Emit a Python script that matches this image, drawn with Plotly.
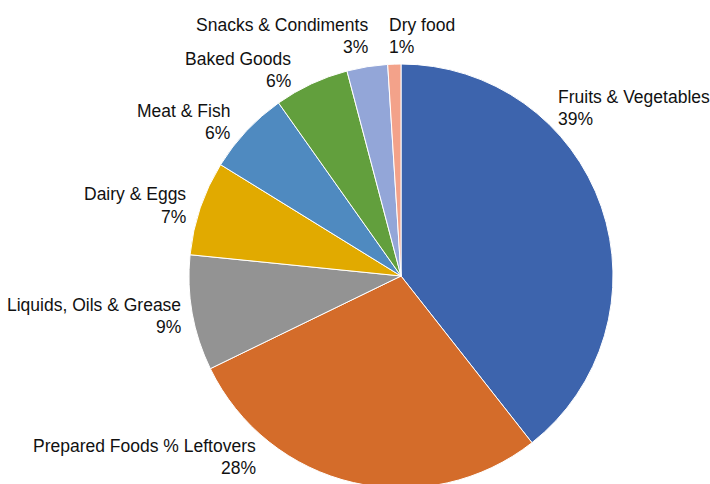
import plotly.graph_objects as go

categories = ["Fruits & Vegetables", "Prepared Foods % Leftovers", "Liquids, Oils & Grease",
              "Dairy & Eggs", "Meat & Fish", "Baked Goods", "Snacks & Condiments", "Dry food"]
values = [39.4, 28.4, 8.8, 7.2, 6.4, 5.7, 3.1, 1.0]
pct_labels = ["39%", "28%", "9%", "7%", "6%", "6%", "3%", "1%"]
colors = ["#3D64AD", "#D46C2A", "#939393", "#E1AA00", "#4F8AC0", "#629F3D", "#93A6D8", "#F3A28A"]

W, H = 710, 490
# label anchor positions in pixels: (x, y_line1, y_line2, align)
label_pos = [
    (556, 97, 119, "left"),
    (258, 446, 468, "right"),
    (183, 305, 327, "right"),
    (188, 194, 217, "right"),
    (232, 111, 133, "right"),
    (293, 59, 81, "right"),
    (370, 25, 47, "right"),
    (387, 25, 47, "left"),
]

FONT = "Liberation Sans Narrow, Arial Narrow, Liberation Sans, Arial, sans-serif"

fig = go.Figure(go.Pie(
    labels=categories, values=values, sort=False, direction="clockwise", rotation=0,
    marker=dict(colors=colors, line=dict(color="white", width=1)),
    textinfo="none", hoverinfo="label+percent", showlegend=False,
    domain=dict(x=[189 / W, 613 / W], y=[1 - 488 / H, 1 - 64 / H]),
))

anns = []
for cat, pct, (x, y1, y2, al) in zip(categories, pct_labels, label_pos):
    for txt, yy in ((cat, y1), (pct, y2)):
        anns.append(dict(x=x / W, y=1 - yy / H, xref="paper", yref="paper",
                         text=txt, showarrow=False, xanchor=al, yanchor="middle",
                         font=dict(family=FONT, size=17.5, color="#111111")))

fig.update_layout(width=W, height=H, margin=dict(l=0, r=0, t=0, b=0),
                  paper_bgcolor="white", plot_bgcolor="white", annotations=anns)
fig.write_html("out.html", config={"displayModeBar": False},
               post_script="document.body.style.margin='0';document.body.style.overflow='hidden';")
